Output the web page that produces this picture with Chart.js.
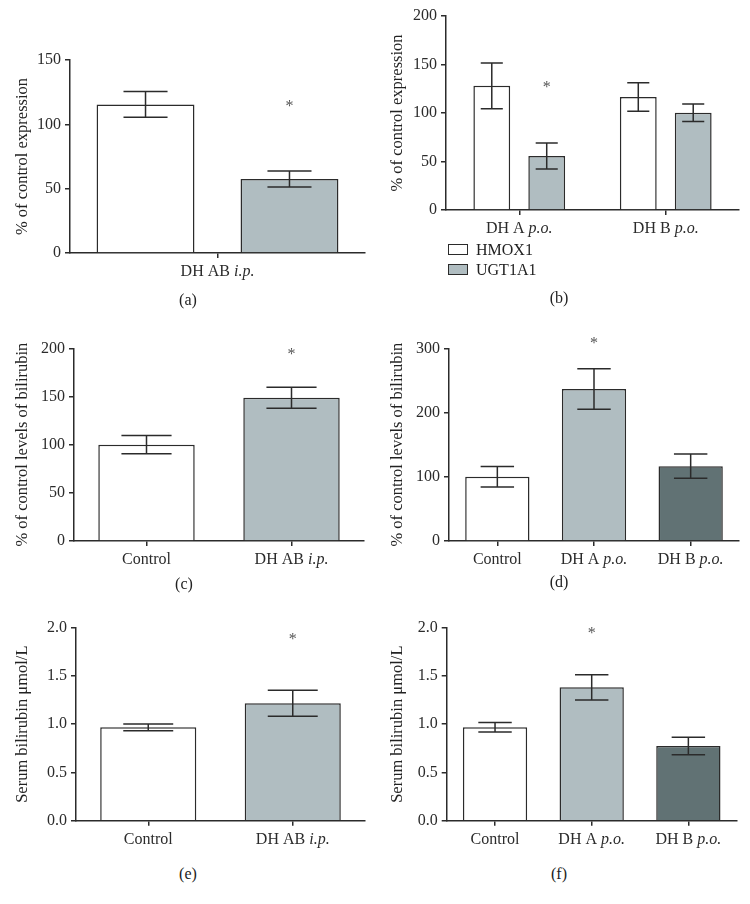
<!DOCTYPE html>
<html>
<head>
<meta charset="utf-8">
<script src="https://cdn.jsdelivr.net/npm/chart.js@4.4.0/dist/chart.umd.min.js"></script>
<style>
  body { margin:0; background:#fff; width:750px; height:904px; position:relative; overflow:hidden;
         font-family:"Liberation Serif","Times New Roman",serif; color:#222; }
  canvas { position:absolute; }
  .tag { position:absolute; font-size:16px; line-height:18px; transform:translateX(-50%); }
  .leg { position:absolute; font-size:16px; line-height:18px; }
  .leg span.box { display:inline-block; width:18px; height:9px; border:1.5px solid #2b2b2b; vertical-align:middle; margin-right:8px; position:relative; top:-2px; }
</style>
</head>
<body>
<canvas id="pa" width="375" height="290" style="left:0;top:0"></canvas>
<canvas id="pb" width="375" height="290" style="left:375px;top:0"></canvas>
<canvas id="pc" width="375" height="280" style="left:0;top:300px"></canvas>
<canvas id="pd" width="375" height="280" style="left:375px;top:300px"></canvas>
<canvas id="pe" width="375" height="260" style="left:0;top:600px"></canvas>
<canvas id="pf" width="375" height="260" style="left:375px;top:600px"></canvas>
<div id="legendB"></div>
<div class="tag" style="left:188px;top:291px">(a)</div>
<div class="tag" style="left:559px;top:289px">(b)</div>
<div class="tag" style="left:184px;top:575px">(c)</div>
<div class="tag" style="left:559px;top:573px">(d)</div>
<div class="tag" style="left:188px;top:865px">(e)</div>
<div class="tag" style="left:559px;top:865px">(f)</div>
<script>
// (a) liver expression after i.p. dosing
const aLabels = ['DH AB i.p.'];
const aHmox = [115.5];
const aHmoxErr = [10];
const aUgt = [57.5];
const aUgtErr = [6.3];
const aUgtStar = [117];

// (b) liver expression after p.o. dosing
const bLabels = ['DH A p.o.', 'DH B p.o.'];
const bHmox = [128, 116.5];
const bHmoxErr = [23.5, 14.7];
const bUgt = [55.7, 100.3];
const bUgtErr = [13.5, 9];
const bUgtStar = [131, null];

// (c) bilirubin, i.p.
const cLabels = ['Control', 'DH AB i.p.'];
const cValues = [100, 148.7];
const cErr = [9.5, 11];
const cStars = [null, 198];

// (d) bilirubin, p.o.
const dLabels = ['Control', 'DH A p.o.', 'DH B p.o.'];
const dValues = [100, 236.5, 116.5];
const dErr = [16, 31.5, 19];
const dStars = [null, 315, null];

// (e) serum bilirubin, i.p.
const eLabels = ['Control', 'DH AB i.p.'];
const eValues = [0.968, 1.217];
const eErr = [0.035, 0.135];
const eStars = [null, 1.925];

// (f) serum bilirubin, p.o.
const fLabels = ['Control', 'DH A p.o.', 'DH B p.o.'];
const fValues = [0.968, 1.382, 0.774];
const fErr = [0.05, 0.13, 0.09];
const fStars = [null, 1.99, null];

const INK = '#2b2b2b';
const WHITE = '#ffffff', LIGHT = '#b0bdc1', DARK = '#617274';
const FONT = '"Liberation Serif", "Times New Roman", serif';

// error bars and asterisks on top of the bars
const errorBars = {
  id: 'errorBars',
  afterDatasetsDraw(chart, args, opts) {
    const ctx = chart.ctx, y = chart.scales.y;
    ctx.save();
    ctx.strokeStyle = INK;
    ctx.lineWidth = 1.5;
    chart.data.datasets.forEach((ds, di) => {
      chart.getDatasetMeta(di).data.forEach((bar, i) => {
        const v = ds.data[i];
        const e = ds.errors ? ds.errors[i] : null;
        if (e != null) {
          const top = y.getPixelForValue(v + e), bot = y.getPixelForValue(v - e);
          const half = bar.width * (opts.cap || 0.5) / 2;
          ctx.beginPath();
          ctx.moveTo(bar.x, top); ctx.lineTo(bar.x, bot);
          ctx.moveTo(bar.x - half, top); ctx.lineTo(bar.x + half, top);
          ctx.moveTo(bar.x - half, bot); ctx.lineTo(bar.x + half, bot);
          ctx.stroke();
        }
        const s = ds.stars ? ds.stars[i] : null;
        if (s != null) {
          ctx.fillStyle = '#555';
          ctx.font = '16px ' + FONT;
          ctx.textAlign = 'center';
          ctx.textBaseline = 'alphabetic';
          ctx.fillText('*', bar.x, y.getPixelForValue(s) + 9);
        }
      });
    });
    ctx.restore();
  }
};

// x labels with the route (i.p. / p.o.) in italics
function splitItalic(s) {
  const m = s.match(/^(.*\s)([a-z]\.[a-z]\.)$/);
  return m ? [{t: m[1], it: false}, {t: m[2], it: true}] : [{t: s, it: false}];
}
const xLabels = {
  id: 'xLabels',
  afterDraw(chart) {
    const ctx = chart.ctx, x = chart.scales.x;
    ctx.save();
    ctx.fillStyle = INK;
    ctx.textBaseline = 'middle';
    ctx.textAlign = 'left';
    chart.data.labels.forEach((lab, i) => {
      const parts = splitItalic(lab);
      let w = 0;
      parts.forEach(p => {
        ctx.font = (p.it ? 'italic ' : '') + '16px ' + FONT;
        p.w = ctx.measureText(p.t).width;
        w += p.w;
      });
      let cx = x.getPixelForTick(i) - w / 2;
      parts.forEach(p => {
        ctx.font = (p.it ? 'italic ' : '') + '16px ' + FONT;
        ctx.fillText(p.t, cx, x.top + 19);
        cx += p.w;
      });
    });
    ctx.restore();
  }
};

function makePanel(id, labels, datasets, o) {
  return new Chart(document.getElementById(id), {
    type: 'bar',
    data: { labels: labels, datasets: datasets },
    plugins: [errorBars, xLabels],
    options: {
      responsive: false,
      animation: false,
      devicePixelRatio: 1,
      layout: { padding: { top: o.top, right: o.right, bottom: 0, left: 0 } },
      plugins: { legend: { display: false }, tooltip: { enabled: false }, errorBars: { cap: o.cap } },
      scales: {
        x: {
          grid: { offset: false, drawOnChartArea: false, drawTicks: true, tickLength: 5, color: INK, lineWidth: 1.5 },
          border: { display: true, color: INK, width: 1.5 },
          ticks: { display: false },
          afterFit: s => { s.height = o.xh; }
        },
        y: {
          min: 0, max: o.max,
          ticks: { stepSize: o.step, color: INK, padding: 4, font: { family: FONT, size: 16 },
                   callback: v => o.fixed ? v.toFixed(1) : v },
          grid: { drawOnChartArea: false, drawTicks: true, tickLength: 5, color: INK, lineWidth: 1.5 },
          border: { display: true, color: INK, width: 1.5 },
          title: { display: true, text: o.title, color: '#222', font: { family: FONT, size: 16.5 }, padding: { top: 13, bottom: 0 } },
          afterFit: s => { s.width = o.yw; }
        }
      }
    }
  });
}

function bar(label, data, errors, stars, colors, cp, bp) {
  return { label: label, data: data, errors: errors, stars: stars, backgroundColor: colors,
           borderColor: INK, borderWidth: 1.5, categoryPercentage: cp, barPercentage: bp };
}

makePanel('pa', aLabels, [
  bar('HMOX1', aHmox, aHmoxErr, null, WHITE, 0.976, 0.68),
  bar('UGT1A1', aUgt, aUgtErr, aUgtStar, LIGHT, 0.976, 0.68)
], { top: 60, right: 10, xh: 37, yw: 70, max: 150, step: 50, title: '% of control expression', cap: 0.45 });

makePanel('pb', bLabels, [
  bar('HMOX1', bHmox, bHmoxErr, null, WHITE, 0.75, 0.67),
  bar('UGT1A1', bUgt, bUgtErr, bUgtStar, LIGHT, 0.75, 0.67)
], { top: 16, right: 11, xh: 80, yw: 71, max: 200, step: 50, title: '% of control expression', cap: 0.6 });

makePanel('pc', cLabels, [
  bar('c', cValues, cErr, cStars, [WHITE, LIGHT], 0.95, 0.7)
], { top: 48.3, right: 11, xh: 39, yw: 74, max: 200, step: 50, title: '% of control levels of bilirubin', cap: 0.52 });

makePanel('pd', dLabels, [
  bar('d', dValues, dErr, dStars, [WHITE, LIGHT, DARK], 0.95, 0.7)
], { top: 48.3, right: 11, xh: 39, yw: 74, max: 300, step: 100, title: '% of control levels of bilirubin', cap: 0.52 });

makePanel('pe', eLabels, [
  bar('e', eValues, eErr, eStars, [WHITE, LIGHT], 0.95, 0.7)
], { top: 27.7, right: 10, xh: 39.3, yw: 76, max: 2, step: 0.5, fixed: true, title: 'Serum bilirubin μmol/L', cap: 0.52 });

makePanel('pf', fLabels, [
  bar('f', fValues, fErr, fStars, [WHITE, LIGHT, DARK], 0.95, 0.7)
], { top: 27.7, right: 13.3, xh: 39.3, yw: 71.7, max: 2, step: 0.5, fixed: true, title: 'Serum bilirubin μmol/L', cap: 0.52 });

// legend of panel (b), built from its series names and colours
const legendB = document.getElementById('legendB');
[['HMOX1', WHITE], ['UGT1A1', LIGHT]].forEach((it, i) => {
  const d = document.createElement('div');
  d.className = 'leg';
  d.style.left = '448px';
  d.style.top = (241 + i * 20) + 'px';
  d.innerHTML = '<span class="box" style="background:' + it[1] + '"></span>' + it[0];
  legendB.appendChild(d);
});
</script>
</body>
</html>
